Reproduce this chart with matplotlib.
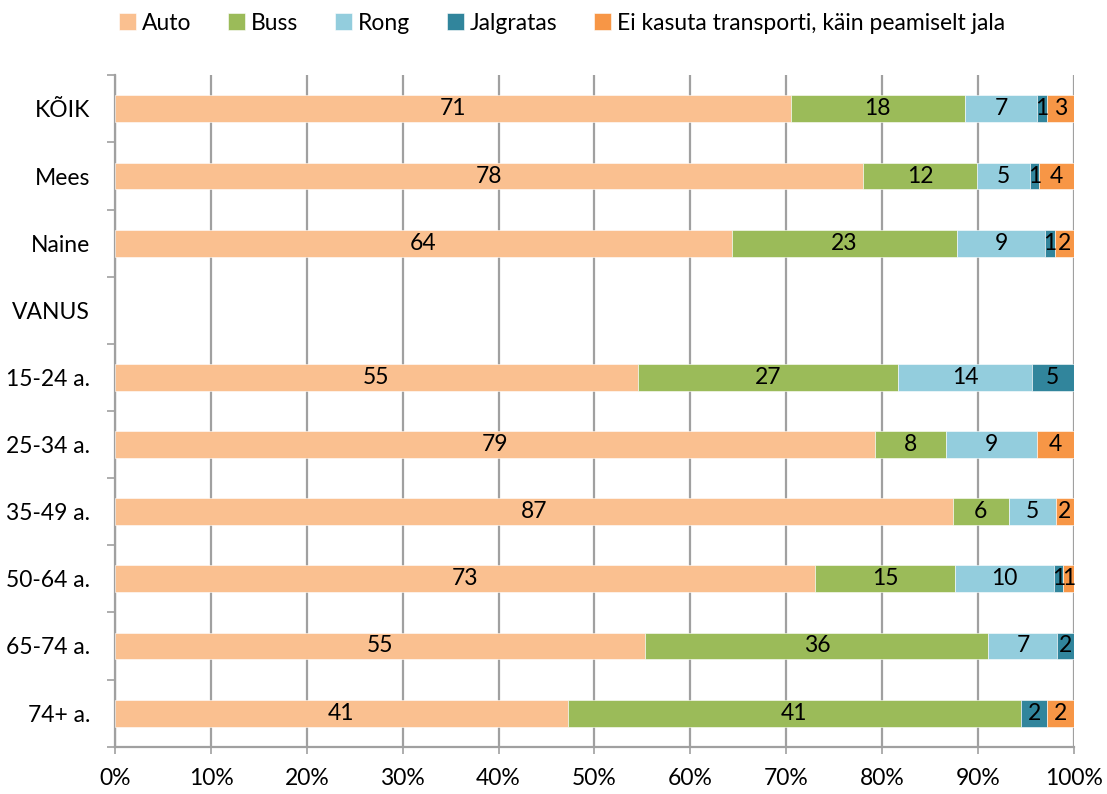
import matplotlib
matplotlib.use("Agg")
import matplotlib.pyplot as plt
import numpy as np

categories = ["KÕIK", "Mees", "Naine", "VANUS", "15-24 a.", "25-34 a.",
              "35-49 a.", "50-64 a.", "65-74 a.", "74+ a."]
series = ["Auto", "Buss", "Rong", "Jalgratas", "Ei kasuta transporti, käin peamiselt jala"]
colors = ["#FAC090", "#9BBB59", "#93CDDD", "#31859C", "#F79646"]

# segment shares (% of bar)
auto      = [70.5, 78.0, 64.3, 0, 54.5, 79.3, 87.4, 73.0, 55.3, 47.2]
buss      = [18.1, 11.9, 23.5, 0, 27.2,  7.4,  5.8, 14.6, 35.8, 47.3]
rong      = [ 7.6,  5.5,  9.2, 0, 13.9,  9.5,  4.9, 10.3,  7.2,  0.0]
jalgratas = [ 1.0,  1.0,  1.0, 0,  4.4,  0.0,  0.0,  1.0,  1.7,  2.7]
jala      = [ 2.8,  3.6,  2.0, 0,  0.0,  3.8,  1.9,  1.1,  0.0,  2.8]

# printed data labels
lab_auto      = [71, 78, 64, None, 55, 79, 87, 73, 55, 41]
lab_buss      = [18, 12, 23, None, 27, 8, 6, 15, 36, 41]
lab_rong      = [7, 5, 9, None, 14, 9, 5, 10, 7, None]
lab_jalgratas = [1, 1, 1, None, 5, None, None, 1, 2, 2]
lab_jala      = [3, 4, 2, None, None, 4, 2, 1, None, 2]

values = [auto, buss, rong, jalgratas, jala]
labels = [lab_auto, lab_buss, lab_rong, lab_jalgratas, lab_jala]

FONT = "Lato"
FS = 16.5
plt.rcParams["font.family"] = [FONT, "DejaVu Sans"]

fig = plt.figure(figsize=(11.07, 7.94), dpi=100)
ax = fig.add_axes([0.104, 0.0596, 0.866, 0.8455])

n = len(categories)
y = np.arange(n)
left = np.zeros(n)
for vals, labs, col, name in zip(values, labels, colors, series):
    v = np.array(vals, dtype=float)
    mask = v > 0
    ax.barh(y[mask], v[mask], left=left[mask], height=0.4, color=col, label=name,
            edgecolor="white", linewidth=0.4, zorder=3)
    for i in range(n):
        if labs[i] is not None and v[i] > 0:
            ax.text(left[i] + v[i] / 2, y[i], str(labs[i]), ha="center",
                    va="center", fontsize=FS, color="black", zorder=4)
    left += v

ax.set_xlim(0, 100)
ax.set_ylim(n - 0.5, -0.5)
ax.set_xticks(np.arange(0, 101, 10))
ax.set_xticklabels([f"{t}%" for t in range(0, 101, 10)], fontsize=FS)
ax.xaxis.grid(True, color="#A0A0A0", linewidth=1.6, zorder=0)
ax.set_axisbelow(True)

ax.set_yticks(np.arange(-0.5, n, 1.0))
ax.set_yticklabels([])
ax.set_yticks(y, minor=True)
ax.set_yticklabels(categories, minor=True, fontsize=FS)
ax.tick_params(axis="y", which="major", length=6, width=1.2, color="#A0A0A0")
ax.tick_params(axis="y", which="minor", length=0, pad=18)
ax.tick_params(axis="x", which="major", length=5, width=1.2, color="#A0A0A0", pad=10)

for s in ["top", "right"]:
    ax.spines[s].set_visible(False)
for s in ["left", "bottom"]:
    ax.spines[s].set_color("#A0A0A0")
    ax.spines[s].set_linewidth(1.6)

handles, lbls = ax.get_legend_handles_labels()
fig.legend(handles, lbls, loc="center", bbox_to_anchor=(0.508, 0.971), ncol=5,
           frameon=False, fontsize=FS, handlelength=0.74, handleheight=0.74,
           handletextpad=0.26, columnspacing=1.6, borderaxespad=0, borderpad=0)

fig.savefig("out.png", dpi=100)
